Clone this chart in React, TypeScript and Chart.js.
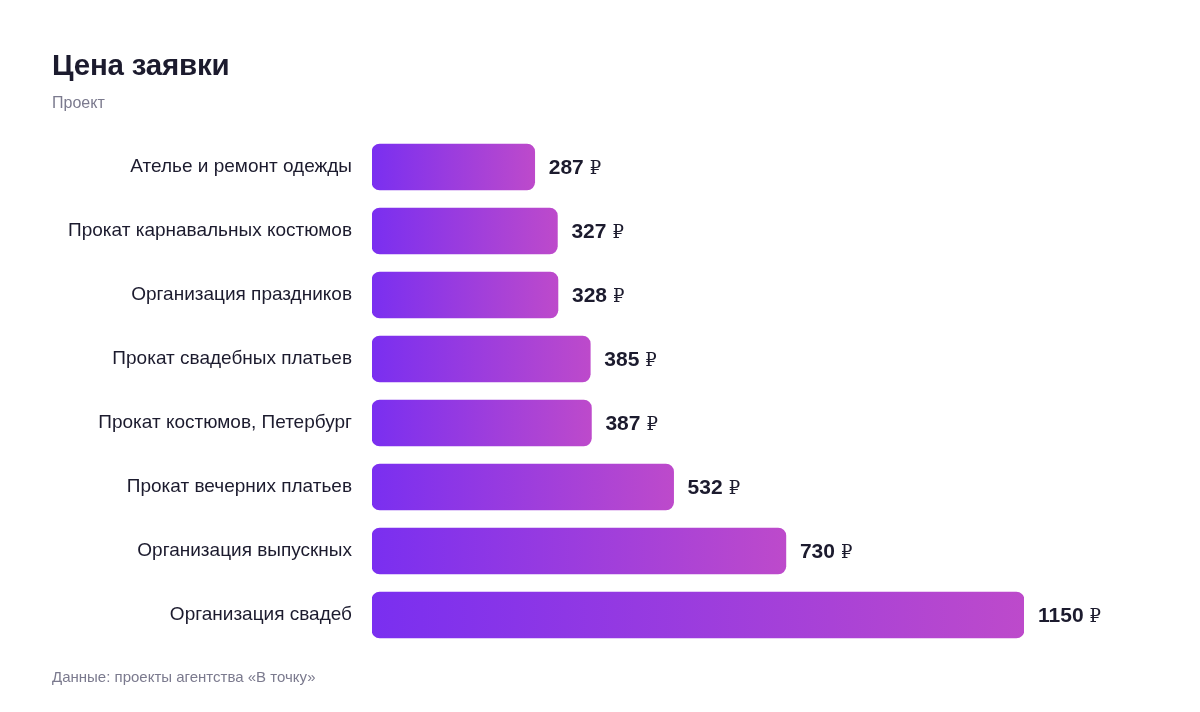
import React, { useEffect, useRef } from "react";
import { Chart, registerables } from "chart.js";

Chart.register(...registerables);

const categories = [
  "Ателье и ремонт одежды",
  "Прокат карнавальных костюмов",
  "Организация праздников",
  "Прокат свадебных платьев",
  "Прокат костюмов, Петербург",
  "Прокат вечерних платьев",
  "Организация выпускных",
  "Организация свадеб",
];
const prices = [287, 327, 328, 385, 387, 532, 730, 1150];
const currency = "₽";
const title = "Цена заявки";
const subtitle = "Проект";
const source = "Данные: проекты агентства «В точку»";

const FONT = "'Liberation Sans', Arial, Helvetica, sans-serif";
const DARK = "#1c1b2e";
const GRAY = "#7b7a8e";
const C_LEFT = "#7a2ff0";
const C_RIGHT = "#bd4acb";

const valueLabels = {
  id: "valueLabels",
  afterDatasetsDraw(chart: any) {
    const { ctx } = chart;
    const meta = chart.getDatasetMeta(0);
    ctx.save();
    ctx.textBaseline = "middle";
    ctx.textAlign = "left";
    meta.data.forEach((bar: any, i: number) => {
      const num = String(prices[i]);
      let x = bar.x + 14;
      const y = bar.y + 1;
      ctx.font = `bold 21px ${FONT}`;
      ctx.fillStyle = DARK;
      ctx.fillText(num, x, y);
      x += ctx.measureText(num).width + 6;
      ctx.font = `normal 18px 'DejaVu Serif', ${FONT}`;
      ctx.fillText(currency, x, y + 1);
    });
    ctx.restore();
  },
};

export default function App() {
  const ref = useRef<HTMLCanvasElement>(null);
  useEffect(() => {
    const canvas = ref.current!;
    const chart = new Chart(canvas, {
      type: "bar",
      data: {
        labels: categories,
        datasets: [
          {
            data: prices,
            barThickness: 46,
            borderRadius: 8,
            borderSkipped: false,
            backgroundColor: (c: any) => {
              const ch = c.chart;
              const xs = ch.scales?.x;
              if (!xs || c.parsed == null || c.type !== "data") return C_LEFT;
              const x0 = xs.getPixelForValue(0);
              const x1 = xs.getPixelForValue(c.parsed.x);
              if (!isFinite(x0) || !isFinite(x1) || x1 <= x0) return C_LEFT;
              const g = ch.ctx.createLinearGradient(x0, 0, x1, 0);
              g.addColorStop(0, C_LEFT);
              g.addColorStop(1, C_RIGHT);
              return g;
            },
          },
        ],
      },
      options: {
        indexAxis: "y",
        animation: false,
        responsive: false,
        maintainAspectRatio: false,
        layout: { padding: { left: 0, right: 176, top: 135, bottom: 65 } },
        plugins: {
          legend: { display: false },
          tooltip: { enabled: false },
        },
        scales: {
          x: {
            display: false,
            min: 0,
            max: 1150,
          },
          y: {
            offset: true,
            grid: { display: false },
            border: { display: false },
            ticks: {
              padding: 12,
              color: DARK,
              font: { family: FONT, size: 19 },
            },
            afterFit: (s: any) => {
              s.width = 372;
            },
          },
        },
      },
      plugins: [valueLabels],
    });
    return () => chart.destroy();
  }, []);

  return (
    <div
      style={{
        position: "fixed",
        left: 0,
        top: 0,
        width: 1200,
        height: 712,
        background: "#ffffff",
        fontFamily: FONT,
      }}
    >
      <canvas
        ref={ref}
        width={1200}
        height={712}
        style={{ position: "absolute", left: 0, top: 0, width: 1200, height: 712 }}
      />
      <div
        style={{
          position: "absolute",
          left: 52,
          top: 47,
          fontSize: 29.5,
          fontWeight: 700,
          color: DARK,
          lineHeight: "36px",
          letterSpacing: "-0.2px",
        }}
      >
        {title}
      </div>
      <div
        style={{
          position: "absolute",
          left: 52,
          top: 94,
          fontSize: 16,
          color: GRAY,
          lineHeight: "18px",
        }}
      >
        {subtitle}
      </div>
      <div
        style={{
          position: "absolute",
          left: 52,
          top: 669,
          fontSize: 15,
          color: GRAY,
          lineHeight: "16px",
        }}
      >
        {source}
      </div>
    </div>
  );
}
